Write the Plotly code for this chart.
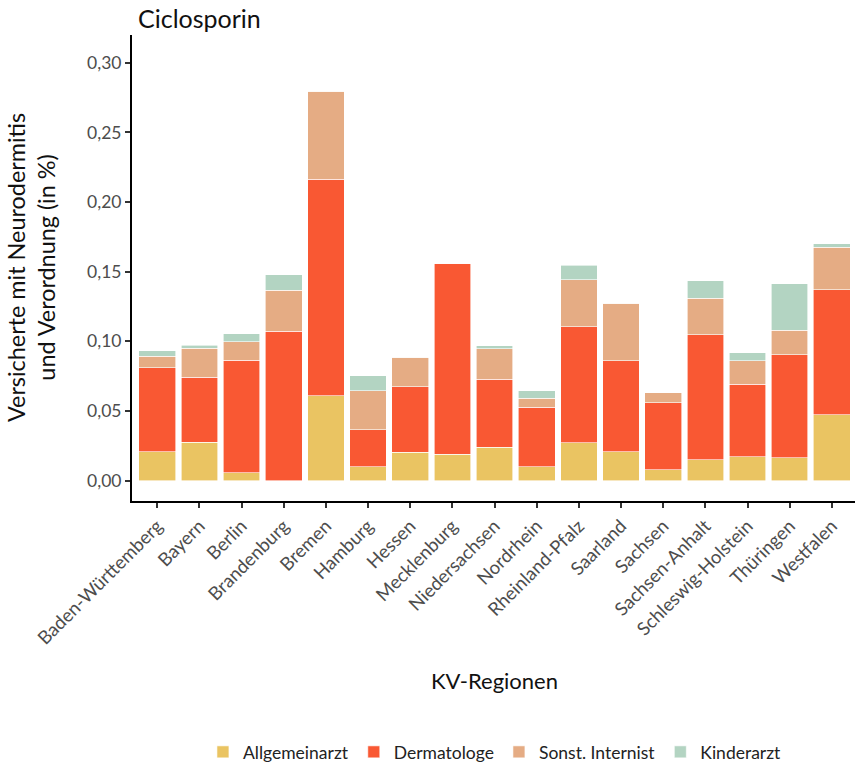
import plotly.graph_objects as go

regions = ["Baden-Württemberg", "Bayern", "Berlin", "Brandenburg", "Bremen", "Hamburg",
           "Hessen", "Mecklenburg", "Niedersachsen", "Nordrhein", "Rheinland-Pfalz",
           "Saarland", "Sachsen", "Sachsen-Anhalt", "Schleswig-Holstein", "Thüringen", "Westfalen"]

allgemeinarzt = [0.0206, 0.0275, 0.0057, 0.0000, 0.0610, 0.0100, 0.0203, 0.0189, 0.0239,
                 0.0100, 0.0270, 0.0208, 0.0077, 0.0151, 0.0170, 0.0165, 0.0474]
dermatologe = [0.0603, 0.0467, 0.0807, 0.1072, 0.1553, 0.0266, 0.0469, 0.1371, 0.0488,
               0.0426, 0.0833, 0.0651, 0.0483, 0.0897, 0.0521, 0.0739, 0.0895]
sonst_internist = [0.0083, 0.0208, 0.0132, 0.0294, 0.0632, 0.0280, 0.0213, 0.0000, 0.0221,
                   0.0065, 0.0338, 0.0414, 0.0072, 0.0261, 0.0168, 0.0175, 0.0306]
kinderarzt = [0.0041, 0.0021, 0.0057, 0.0113, 0.0000, 0.0105, 0.0000, 0.0000, 0.0021,
              0.0055, 0.0107, 0.0000, 0.0000, 0.0127, 0.0058, 0.0333, 0.0024]

series = [
    ("Allgemeinarzt", allgemeinarzt, "#EAC462"),
    ("Dermatologe", dermatologe, "#F95833"),
    ("Sonst. Internist", sonst_internist, "#E5AC84"),
    ("Kinderarzt", kinderarzt, "#B3D4C2"),
]

y_tickvals = [0.0, 0.05, 0.10, 0.15, 0.20, 0.25, 0.30]
y_ticktext = ["0,00", "0,05", "0,10", "0,15", "0,20", "0,25", "0,30"]

FONT = "Lato"

fig = go.Figure()
for name, vals, col in series:
    fig.add_trace(go.Bar(
        x=regions, y=vals, name=name, width=0.87,
        marker=dict(color=col, line=dict(color="white", width=0.6)),
    ))

fig.update_layout(
    barmode="stack",
    width=855, height=766,
    plot_bgcolor="white", paper_bgcolor="white",
    margin=dict(l=132, r=0, t=35, b=265, autoexpand=False),
    font=dict(family=FONT, color="#222222"),
    showlegend=True,
    legend=dict(orientation="h", x=0.502, xanchor="center", yref="container",
                y=0.0183, yanchor="middle", font=dict(size=17.5, color="#222222", family=FONT),
                traceorder="normal", itemwidth=30),
)

fig.update_xaxes(
    range=[-0.6, 16.55], showline=True, linecolor="black", linewidth=2,
    ticks="outside", ticklen=5, tickcolor="#333333", tickwidth=1.5,
    tickangle=-45, tickfont=dict(size=18.5, color="#4D4D4D", family=FONT),
    showgrid=False, zeroline=False, automargin=False,
)
fig.update_yaxes(
    range=[-0.0147, 0.320], showline=True, linecolor="black", linewidth=2,
    ticks="outside", ticklen=5, tickcolor="#333333", tickwidth=1.5,
    tickvals=y_tickvals, ticktext=y_ticktext,
    tickfont=dict(size=17.5, color="#4D4D4D", family=FONT),
    showgrid=False, zeroline=False, automargin=False,
)

fig.add_annotation(text="Ciclosporin", xref="paper", yref="paper", x=0.0, y=1.0,
                   xanchor="left", yanchor="middle", yshift=17, xshift=4, showarrow=False,
                   font=dict(size=25, color="#111111", family=FONT))
fig.add_annotation(text="Versicherte mit Neurodermitis<br>und Verordnung (in %)",
                   xref="paper", yref="paper", x=0, y=0.5, xshift=-101,
                   xanchor="center", yanchor="middle", textangle=-90, showarrow=False,
                   font=dict(size=23.4, color="#111111", family=FONT))
fig.add_annotation(text="KV-Regionen", xref="paper", yref="paper", x=0.502, y=0,
                   yshift=-179, xanchor="center", yanchor="middle", showarrow=False,
                   font=dict(size=22, color="#111111", family=FONT))

fig.write_html("out.html", config={"displayModeBar": False},
               post_script="document.body.style.margin='0';")
